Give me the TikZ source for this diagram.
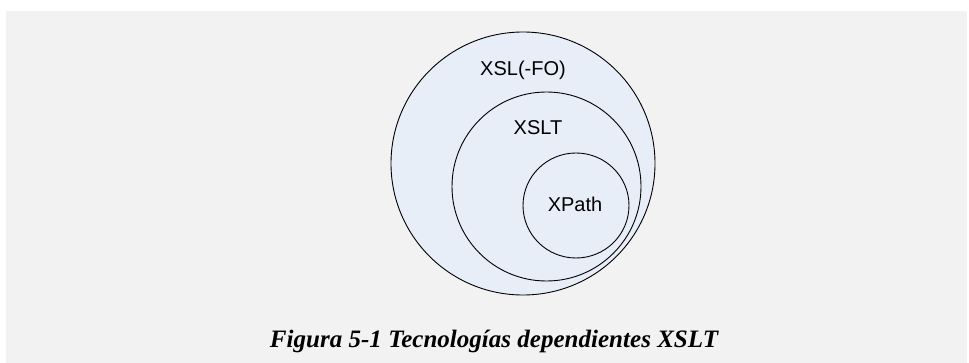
\documentclass[tikz,border=0pt]{standalone}
\usepackage{fontspec}
\setmainfont{Liberation Sans}
\newfontfamily\capfont{Liberation Serif}
\definecolor{panel}{HTML}{F2F2F2}
\definecolor{setfill}{HTML}{E8EEF8}
\begin{document}
\begin{tikzpicture}[x=1pt,y=-1pt,
  setring/.style={draw=black,line width=0.9pt,fill=setfill},
  setlabel/.style={font=\fontsize{20}{24}\selectfont,inner sep=0pt},
  captext/.style={font=\capfont\bfseries\itshape\fontsize{22}{26}\selectfont,inner sep=0pt}]
  \useasboundingbox (0,0) rectangle (969,363);
  \fill[white] (0,0) rectangle (969,363);
  \fill[panel] (6,11) rectangle (967,363);
  % nested sets
  \draw[setring] (523,163.5) ellipse [x radius=132, y radius=131.5];
  \draw[setring] (546.5,186.5) circle [radius=94.5];
  \draw[setring] (576,205.5) ellipse [x radius=53, y radius=52.5];
  \node[setlabel] (xslfo) at (523,70) {XSL(-FO)};
  \node[setlabel] (xslt) at (538,128) {XSLT};
  \node[setlabel] (xpath) at (575,204) {XPath};
  % caption
  \node[captext,anchor=base] (cap) at (494,347) {\resizebox{448pt}{!}{Figura 5-1 Tecnologías dependientes XSLT}};
\end{tikzpicture}
\end{document}
